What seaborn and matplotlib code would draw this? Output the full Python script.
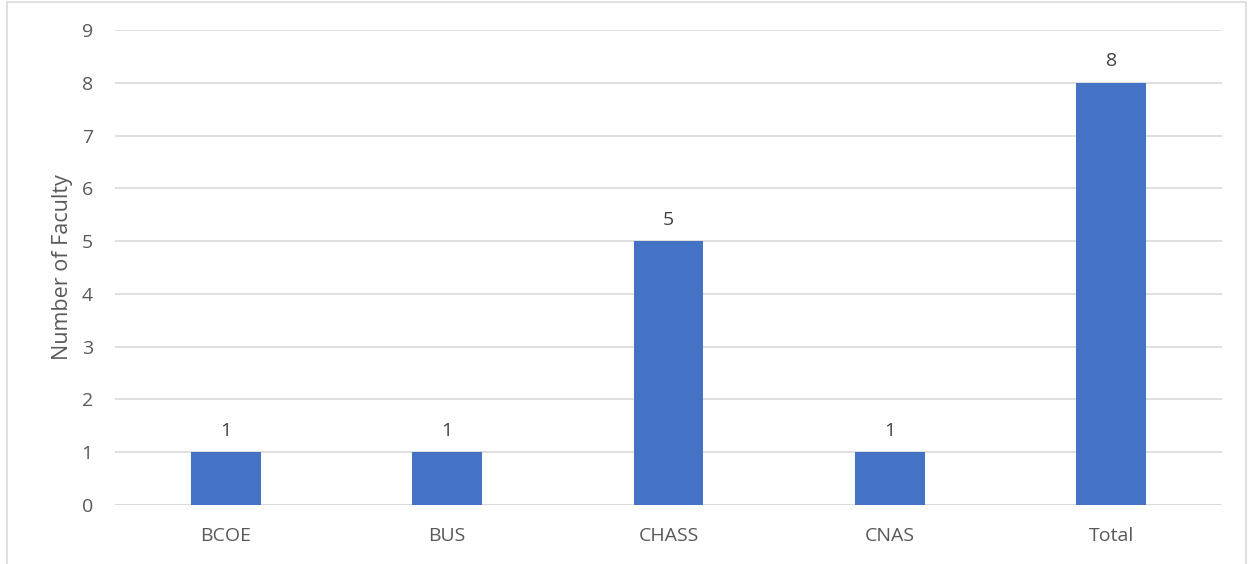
import matplotlib
matplotlib.use("Agg")
import matplotlib.pyplot as plt
import seaborn as sns
import pandas as pd
from matplotlib.patches import Rectangle

categories = ["BCOE", "BUS", "CHASS", "CNAS", "Total"]
values = [1, 1, 5, 1, 8]
yticks = list(range(0, 10))

sns.set_theme(style="white")
plt.rcParams['font.family'] = ['Open Sans', 'DejaVu Sans']

df = pd.DataFrame({"cat": categories, "val": values})

fig = plt.figure(figsize=(12.48, 5.64), dpi=100)
ax = fig.add_axes([115/1248, 1-505/564, (1222-115)/1248, (505-30)/564])

sns.barplot(data=df, x="cat", y="val", color="#4472C4", saturation=1, width=0.316,
            linewidth=0, ax=ax, zorder=3)

ax.set_ylim(0, 9)
ax.set_yticks(yticks)
ax.yaxis.grid(True, color="#D9D9D9", linewidth=1.2, zorder=0)
ax.set_axisbelow(True)
for s in ax.spines.values():
    s.set_visible(False)
ax.axhline(0, color="#D9D9D9", linewidth=1.2, zorder=1)
ax.tick_params(axis="both", length=0, labelsize=14, colors="#595959")
ax.tick_params(axis="y", pad=16)
ax.tick_params(axis="x", pad=16)
ax.set_xlabel("")
ax.set_ylabel("Number of Faculty", fontsize=15.5, color="#595959", labelpad=6)

for c in ax.containers:
    ax.bar_label(c, fmt="%d", padding=9, fontsize=14, color="#404040")

fig.patches.append(Rectangle((7/1248, -0.01), (1246-7)/1248, 1 - 1.5/564 + 0.01,
                             transform=fig.transFigure, fill=False,
                             edgecolor="#D9D9D9", linewidth=1.2))

fig.savefig("out.png", dpi=100)
